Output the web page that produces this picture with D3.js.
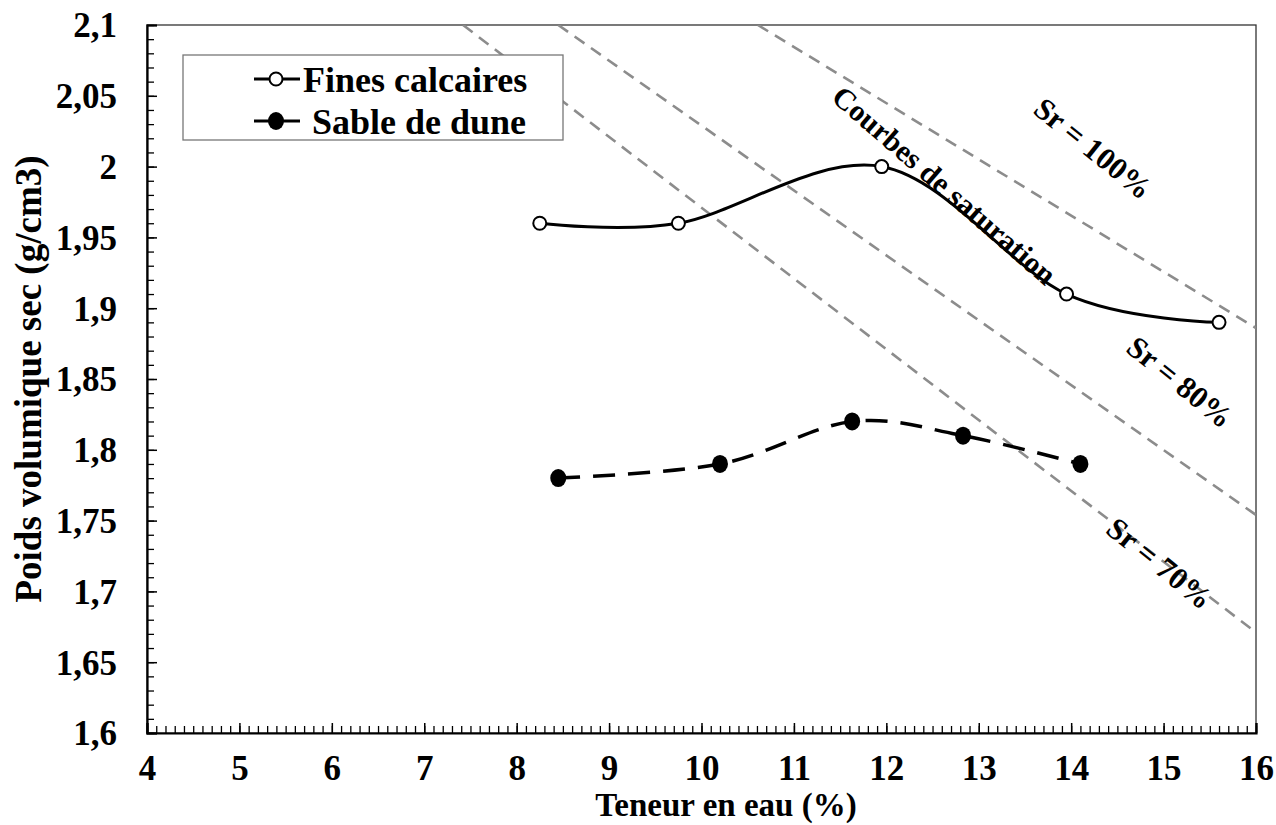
<!DOCTYPE html>
<html>
<head>
<meta charset="utf-8">
<script src="https://cdn.jsdelivr.net/npm/d3@7"></script>
<style>
  body { margin: 0; background: #fff; }
  text { font-family: "Liberation Serif", "Times New Roman", serif; font-weight: bold; fill: #000; }
</style>
</head>
<body>
<svg id="chart" width="1276" height="825"></svg>
<script>
// data
const finesX = [8.25, 9.75, 11.95, 13.95, 15.6];
const finesY = [1.96, 1.96, 2.0, 1.91, 1.89];
const sableX = [8.45, 10.2, 11.63, 12.83, 14.1];
const sableY = [1.78, 1.79, 1.82, 1.81, 1.79];

// saturation lines, endpoints where they meet the frame
const satNames = ['Sr = 100%', 'Sr = 80%', 'Sr = 70%'];
const satX = [[10.61, 16], [8.45, 16], [7.42, 16]];
const satY = [[2.1, 1.886], [2.1, 1.754], [2.1, 1.671]];
const satLabelX = [14.24, 15.18, 14.96];
const satLabelY = [2.013, 1.848, 1.72];

const xTicks = d3.range(4, 16.01, 1);
const yTicks = [1.6, 1.65, 1.7, 1.75, 1.8, 1.85, 1.9, 1.95, 2.0, 2.05, 2.1];

const svg = d3.select("#chart");
const margin = {top: 25, right: 20, bottom: 92, left: 147};
const W = 1276, H = 825;

const x = d3.scaleLinear().domain([4, 16]).range([margin.left, W - margin.right]);
const y = d3.scaleLinear().domain([1.6, 2.1]).range([H - margin.bottom, margin.top]);

const fr = d3.formatLocale({decimal: ",", thousands: " ", grouping: [3], currency: ["", " €"]});
const fmt = fr.format("~g");
const serif = '"Liberation Serif", "Times New Roman", serif';

svg.append("clipPath").attr("id", "plot-clip")
    .append("rect")
    .attr("x", x(4)).attr("y", y(2.1))
    .attr("width", x(16) - x(4)).attr("height", y(1.6) - y(2.1));

// frame (top/right thin)
svg.append("rect")
    .attr("x", x(4)).attr("y", y(2.1))
    .attr("width", x(16) - x(4)).attr("height", y(1.6) - y(2.1))
    .attr("fill", "none").attr("stroke", "#333").attr("stroke-width", 1.3);

// minor ticks
const gMinor = svg.append("g");
gMinor.append("g")
    .attr("transform", `translate(0,${y(1.6)})`)
    .call(d3.axisBottom(x).tickValues(d3.range(40, 161).map(d => d / 10)).tickSize(-7).tickFormat(""))
    .call(g => g.select(".domain").remove());
gMinor.append("g")
    .attr("transform", `translate(${x(4)},0)`)
    .call(d3.axisLeft(y).tickValues(d3.range(160, 211).map(d => d / 100)).tickSize(-7).tickFormat(""))
    .call(g => g.select(".domain").remove());
gMinor.selectAll("line").attr("stroke", "#000").attr("stroke-width", 1.3);

// major axes
const xAxis = svg.append("g")
    .attr("transform", `translate(0,${y(1.6)})`)
    .call(d3.axisBottom(x).tickValues(xTicks).tickSize(-10).tickPadding(22).tickFormat(d3.format("d")));
const yAxis = svg.append("g")
    .attr("transform", `translate(${x(4)},0)`)
    .call(d3.axisLeft(y).tickValues(yTicks).tickSize(-10).tickPadding(30).tickFormat(fmt));

[xAxis, yAxis].forEach(a => {
    a.attr("font-family", serif).attr("font-size", 35);
    a.select(".domain").attr("stroke", "#000").attr("stroke-width", 2.2);
    a.selectAll(".tick line").attr("stroke", "#000").attr("stroke-width", 1.5);
    a.selectAll(".tick text").attr("fill", "#000");
});
yAxis.selectAll(".tick text").attr("dy", "0.34em");
xAxis.selectAll(".tick text").attr("dy", "0.7em");

// saturation lines
const gSat = svg.append("g").attr("clip-path", "url(#plot-clip)");
satNames.forEach((name, i) => {
    const pts = satX[i].map((v, j) => [x(v), y(satY[i][j])]);
    gSat.append("path")
        .attr("d", d3.line()(pts))
        .attr("fill", "none")
        .attr("stroke", "#8c8c8c")
        .attr("stroke-width", 2.6)
        .attr("stroke-dasharray", "12,8");
});

// series lines
const smooth = d3.line().curve(d3.curveCardinal.tension(0));
svg.append("path")
    .attr("d", smooth(finesX.map((v, i) => [x(v), y(finesY[i])])))
    .attr("fill", "none").attr("stroke", "#000").attr("stroke-width", 3);
svg.append("path")
    .attr("d", smooth(sableX.map((v, i) => [x(v), y(sableY[i])])))
    .attr("fill", "none").attr("stroke", "#000").attr("stroke-width", 3.5)
    .attr("stroke-dasharray", "22,13");

svg.append("g").selectAll("circle").data(finesX).join("circle")
    .attr("cx", d => x(d)).attr("cy", (d, i) => y(finesY[i])).attr("r", 6.5)
    .attr("fill", "#fff").attr("stroke", "#000").attr("stroke-width", 2);
svg.append("g").selectAll("ellipse").data(sableX).join("ellipse")
    .attr("cx", d => x(d)).attr("cy", (d, i) => y(sableY[i])).attr("rx", 8).attr("ry", 9)
    .attr("fill", "#000");

// annotation labels
const angle = 39;
svg.append("text")
    .attr("transform", `translate(${x(12.63)},${y(1.987)}) rotate(41)`)
    .attr("text-anchor", "middle").attr("dy", "0.35em")
    .style("font-size", "30px")
    .text("Courbes de saturation");
satNames.forEach((name, i) => {
    svg.append("text")
        .attr("transform", `translate(${x(satLabelX[i])},${y(satLabelY[i])}) rotate(${angle})`)
        .attr("text-anchor", "middle").attr("dy", "0.35em")
        .style("font-size", "31px")
        .text(name);
});

// legend
const lg = svg.append("g");
lg.append("rect").attr("x", 183).attr("y", 55).attr("width", 380).attr("height", 85)
    .attr("fill", "#fff").attr("stroke", "#777").attr("stroke-width", 1.3);
const legendItems = [
    {name: "Fines calcaires", open: true},
    {name: "Sable de dune", open: false}
];
legendItems.forEach((d, i) => {
    const cy = 79 + i * 42;
    lg.append("line").attr("x1", 254).attr("x2", 300).attr("y1", cy).attr("y2", cy)
        .attr("stroke", "#000").attr("stroke-width", 3);
    if (d.open) {
        lg.append("circle").attr("cx", 276).attr("cy", cy).attr("r", 6.5)
            .attr("fill", "#fff").attr("stroke", "#000").attr("stroke-width", 2);
    } else {
        lg.append("ellipse").attr("cx", 276).attr("cy", cy).attr("rx", 8).attr("ry", 9).attr("fill", "#000");
    }
    lg.append("text").attr("x", i === 0 ? 303 : 312).attr("y", cy).attr("dy", "0.35em")
        .style("font-size", "36px").text(d.name);
});

// axis titles
svg.append("text")
    .attr("x", 726).attr("y", 804).attr("dy", "0.35em")
    .attr("text-anchor", "middle").style("font-size", "33px")
    .text("Teneur en eau (%)");
svg.append("text")
    .attr("transform", `translate(28,${(y(1.6) + y(2.1)) / 2}) rotate(-90)`)
    .attr("text-anchor", "middle").attr("dy", "0.35em").style("font-size", "37px")
    .text("Poids volumique sec (g/cm3)");
</script>
</body>
</html>
